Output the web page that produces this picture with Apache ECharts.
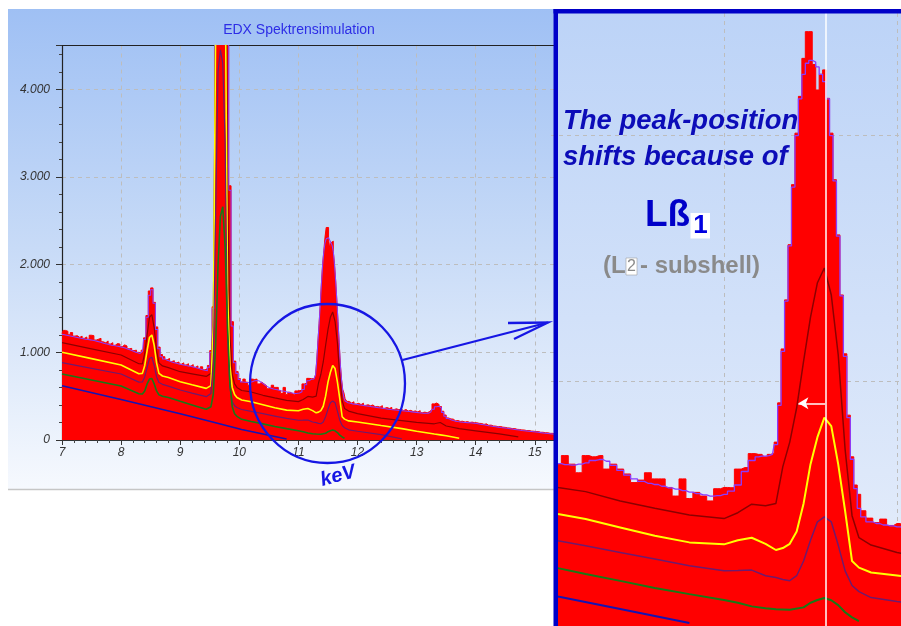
<!DOCTYPE html>
<html>
<head>
<meta charset="utf-8">
<title>EDX Spektrensimulation</title>
<script src="https://cdn.jsdelivr.net/npm/echarts@6/dist/echarts.min.js"></script>
<style>
    html, body { margin: 0; padding: 0; background: #fff; }
    #chart { width: 901px; height: 626px; }
</style>
</head>
<body>
<div id="chart"></div>
<script>
    // channel layout of the simulated spectrum: [first keV, last keV, step]
    const binSegments = [[7.00, 11.20, 0.04], [11.22, 11.80, 0.02], [11.84, 15.36, 0.04]];

    // red histogram (counts per channel)
    const measuredCounts = [
        // 7.00 - 9.96
        1215, 1250, 1240, 1200, 1225, 1185, 1190, 1170, 1185, 1160,
        1175, 1150, 1195, 1190, 1140, 1150, 1160, 1120, 1108, 1130,
        1095, 1110, 1080, 1100, 1095, 1065, 1085, 1072, 1040, 1045,
        1020, 1025, 1000, 995, 1025, 1165, 1420, 1700, 1735, 1570,
        1290, 1060, 975, 950, 915, 930, 895, 905, 880, 890,
        865, 880, 855, 870, 842, 860, 830, 845, 812, 835,
        800, 815, 850, 1020, 1520, 5200, 9600, 14100, 15200, 11600,
        6300, 2900, 1350, 900, 780,
        // 10.00 - 11.20
        700, 662, 695, 660, 625, 695, 690, 695, 640, 660,
        640, 620, 585, 595, 625, 600, 600, 565, 530, 600,
        520, 545, 530, 510, 560, 565, 564, 640, 646, 703, 700,
        // 11.22 - 11.80
        700, 690, 700, 705, 750, 910, 1130, 1330, 1555, 1800,
        2010, 2160, 2315, 2424, 2424, 2290, 2186, 2250, 2268, 2152,
        2010, 1820, 1595, 1350, 1110, 860, 690, 575, 537, 470,
        // 11.84 - 15.36
        440, 422, 436, 410, 418, 404, 420, 395, 402, 390,
        400, 378, 383, 375, 392, 362, 370, 360, 372, 348,
        356, 345, 350, 336, 348, 330, 338, 325, 332, 320,
        335, 312, 318, 310, 325, 345, 412, 422, 405, 382,
        328, 285, 252, 240, 238, 218, 222, 212, 214, 204,
        210, 200, 204, 198, 196, 190, 188, 178, 184, 168,
        170, 160, 158, 152, 154, 146, 144, 138, 136, 130,
        130, 122, 120, 115, 114, 108, 108, 102, 100, 96,
        96, 88, 88, 83, 82, 76, 76, 70, 68
    ];

    // violet outline (smoothed total), same channels
    const smoothCounts = [
        1205, 1200, 1195, 1190, 1184, 1178, 1172, 1166, 1160, 1155,
        1150, 1146, 1142, 1138, 1132, 1125, 1118, 1110, 1102, 1095,
        1088, 1082, 1078, 1072, 1068, 1062, 1055, 1046, 1036, 1026,
        1016, 1005, 995, 988, 1010, 1150, 1400, 1650, 1715, 1560,
        1260, 1040, 950, 925, 910, 900, 890, 882, 875, 868,
        862, 856, 850, 845, 840, 834, 826, 818, 810, 802,
        795, 790, 830, 1000, 1500, 5000, 9500, 14000, 15000, 11500,
        6200, 2850, 1300, 880, 760,
        690, 662, 658, 656, 660, 665, 675, 679, 672, 655,
        635, 615, 600, 590, 582, 577, 570, 563, 558, 552,
        546, 540, 535, 530, 532, 537, 550, 575, 630, 675, 690,
        693, 693, 695, 700, 740, 900, 1120, 1325, 1550, 1790,
        2000, 2150, 2250, 2295, 2307, 2300, 2280, 2250, 2220, 2150,
        2000, 1815, 1590, 1346, 1100, 850, 680, 560, 480, 445,
        425, 418, 412, 408, 404, 400, 396, 392, 388, 384,
        380, 376, 372, 368, 364, 360, 356, 352, 348, 345,
        342, 339, 336, 333, 330, 327, 324, 321, 318, 315,
        312, 309, 306, 304, 305, 320, 350, 380, 385, 365,
        315, 270, 245, 232, 222, 215, 210, 206, 203, 200,
        198, 196, 194, 192, 188, 183, 178, 173, 168, 163,
        159, 155, 151, 147, 143, 140, 136, 133, 129, 125,
        121, 117, 113, 109, 106, 103, 100, 97, 94, 91,
        88, 84, 81, 78, 75, 72, 69, 66, 63
    ];

    // partial spectra [keV, counts]
    const darkRedLine = [[7.0,1110],[7.5,1040],[8.0,970],[8.3,870],[8.36,868],[8.40,990],[8.44,1200],[8.48,1400],[8.52,1430],[8.56,1280],[8.60,1020],[8.64,880],[8.70,845],[8.8,825],[9.0,779],[9.2,755],[9.44,725],[9.52,760],[9.56,1400],[9.60,5000],[9.64,8500],[9.68,9000],[9.72,8800],[9.76,7000],[9.80,3000],[9.84,1200],[9.88,750],[9.92,640],[9.96,600],[10.04,565],[10.2,548],[10.4,510],[10.6,480],[10.8,453],[11.0,438],[11.08,462],[11.16,497],[11.24,490],[11.30,500],[11.34,650],[11.38,750],[11.42,890],[11.46,1080],[11.50,1260],[11.54,1400],[11.58,1460],[11.62,1350],[11.66,1107],[11.70,720],[11.74,450],[11.78,360],[11.85,330],[12.0,300],[12.4,250],[12.75,222],[13.0,200],[13.3,185],[13.4,200],[13.5,160],[13.72,130],[14.0,105],[14.4,70],[14.72,35]];
    const yellowLine = [[7.0,1000],[7.5,928],[8.0,855],[8.3,755],[8.36,760],[8.40,850],[8.44,1020],[8.48,1170],[8.52,1198],[8.56,1080],[8.60,880],[8.64,760],[8.70,730],[8.8,712],[9.0,665],[9.2,630],[9.44,589],[9.52,620],[9.56,1300],[9.60,4700],[9.64,7000],[9.68,7200],[9.72,6800],[9.76,5500],[9.80,1700],[9.84,850],[9.88,600],[9.92,520],[9.96,485],[10.04,457],[10.2,436],[10.4,402],[10.6,368],[10.8,341],[11.0,333],[11.08,350],[11.16,360],[11.24,335],[11.30,310],[11.34,318],[11.38,335],[11.42,385],[11.46,500],[11.50,660],[11.54,770],[11.58,850],[11.62,815],[11.66,660],[11.70,469],[11.74,265],[11.78,238],[11.85,218],[12.0,206],[12.4,165],[12.75,130],[13.0,100],[13.3,68],[13.4,58],[13.5,48],[13.72,20]];
    const darkPurpleLine = [[7.0,882],[7.5,818],[8.0,753],[8.3,660],[8.36,662],[8.40,720],[8.44,830],[8.48,930],[8.52,945],[8.56,850],[8.60,720],[8.64,655],[8.70,635],[8.8,615],[9.0,570],[9.2,535],[9.44,494],[9.52,530],[9.56,900],[9.60,2600],[9.64,4200],[9.68,4450],[9.72,4300],[9.76,3400],[9.80,1200],[9.84,600],[9.88,440],[9.92,390],[9.96,370],[10.04,348],[10.2,327],[10.4,300],[10.6,273],[10.8,246],[11.0,225],[11.08,226],[11.16,228],[11.24,205],[11.30,198],[11.34,190],[11.38,185],[11.42,205],[11.46,265],[11.50,350],[11.54,425],[11.58,445],[11.62,425],[11.66,330],[11.70,225],[11.74,165],[11.78,140],[11.85,116],[12.0,100],[12.4,62],[12.75,12]];
    const greenLine = [[7.0,753],[7.5,685],[8.0,616],[8.3,528],[8.36,525],[8.40,560],[8.44,640],[8.48,695],[8.52,702],[8.56,640],[8.60,560],[8.64,515],[8.70,500],[8.8,485],[9.0,442],[9.2,400],[9.44,350],[9.52,380],[9.56,520],[9.60,1100],[9.64,2000],[9.68,2550],[9.72,2660],[9.76,2200],[9.80,1300],[9.84,650],[9.88,380],[9.92,300],[9.96,270],[10.04,236],[10.2,212],[10.4,184],[10.6,155],[10.8,130],[11.0,106],[11.08,95],[11.16,80],[11.24,72],[11.30,68],[11.38,66],[11.46,76],[11.50,95],[11.54,106],[11.58,114],[11.62,105],[11.66,85],[11.70,56],[11.74,35],[11.78,20]];
    const blueLine = [[7.0,618],[8.0,462],[9.0,300],[9.5,215],[10.04,120],[10.4,69],[10.8,12]];

    const binKeV = [];
    binSegments.forEach(([from, to, step]) => {
        const n = Math.round((to - from) / step);
        for (let i = 0; i <= n; i++) binKeV.push(Math.round((from + i * step) * 100) / 100);
    });
    const histogram = binKeV.map((e, i) => [e, measuredCounts[i]]);
    const envelope = binKeV.map((e, i) => [e, smoothCounts[i]]);

    const curves = [
        { data: darkRedLine, color: '#8c0000', width: 1.5 },
        { data: yellowLine, color: '#ffff00', width: 2 },
        { data: darkPurpleLine, color: '#6e1a6e', width: 1.5 },
        { data: greenLine, color: '#177a17', width: 2 },
        { data: blueLine, color: '#1414b4', width: 2 }
    ];

    const font = '"Liberation Sans", Arial, sans-serif';
    const gridDash = { color: '#bdbdbd', type: [4, 4], width: 1 };

    // one full stack of spectrum layers on a given pair of axes
    const spectrum = (xi, yi, scale) => {
        const list = [{
            type: 'line', xAxisIndex: xi, yAxisIndex: yi, step: 'middle', symbol: 'none',
            data: histogram, lineStyle: { color: '#ff0000', width: 1 },
            areaStyle: { color: '#ff0000', opacity: 1 }, silent: true
        }, {
            type: 'line', xAxisIndex: xi, yAxisIndex: yi, step: 'middle', symbol: 'none',
            data: envelope, lineStyle: { color: '#8a3cff', width: 1.3 * scale }, silent: true
        }];
        curves.forEach(c => list.push({
            type: 'line', xAxisIndex: xi, yAxisIndex: yi, symbol: 'none',
            data: c.data, lineStyle: { color: c.color, width: c.width * scale }, silent: true
        }));
        return list;
    };

    const series = spectrum(0, 0, 0.8).concat(spectrum(3, 2, 1));
    series[series.length - 1].markLine = {
        silent: true,
        symbol: ['none', 'none'],
        label: { show: false },
        lineStyle: { color: '#ffffff', type: 'solid', width: 1.5 },
        data: [
            { xAxis: 11.59 },
            [{ coord: [11.585, 908], symbol: 'none' }, { coord: [11.43, 908], symbol: 'arrow', symbolSize: [9, 10] }]
        ]
    };

    const leftBg = new echarts.graphic.LinearGradient(0, 0, 0, 1, [
        { offset: 0, color: '#9fc0f4' },
        { offset: 0.5, color: '#c8dbf7' },
        { offset: 1, color: '#f6f9fe' }
    ]);
    const insetBg = new echarts.graphic.LinearGradient(0, 0, 0, 1, [
        { offset: 0, color: '#bcd3f7' },
        { offset: 1, color: '#e8effb' }
    ]);
    const annot = '#1616e4';

    const option = {
        animation: false,
        grid: [
            { left: 62, top: 45.5, width: 492.7, height: 394.5 },
            { left: 551, top: 13, width: 350, height: 615.6 },
            { left: 558, top: 13, width: 343, height: 615.6 }
        ],
        xAxis: [{
            gridIndex: 0, type: 'value', min: 7, max: 15.336, interval: 1,
            axisLine: { lineStyle: { color: '#333', width: 1 } },
            axisTick: { length: 5, lineStyle: { color: '#333' } },
            minorTick: { show: true, splitNumber: 5, length: 3, lineStyle: { color: '#444' } },
            axisLabel: {
                color: '#333', fontStyle: 'italic', fontSize: 12, fontFamily: font, margin: 7,
                formatter: v => Number.isInteger(v) ? String(v) : ''
            },
            splitLine: { show: true, lineStyle: gridDash }
        }, {
            gridIndex: 0, type: 'value', position: 'top', min: 7, max: 15.336,
            axisLine: { show: true, lineStyle: { color: '#222' } },
            axisTick: { show: false }, axisLabel: { show: false }, splitLine: { show: false }
        }, {
            gridIndex: 1, type: 'value', min: 10, max: 12.023, interval: 1,
            axisLine: { show: false }, axisTick: { show: false }, axisLabel: { show: false },
            splitLine: { show: true, showMinLine: false, showMaxLine: false, lineStyle: gridDash }
        }, {
            gridIndex: 2, type: 'value', min: 10.0405, max: 12.023,
            axisLine: { show: false }, axisTick: { show: false }, axisLabel: { show: false },
            splitLine: { show: false }
        }],
        yAxis: [{
            gridIndex: 0, type: 'value', min: 0, max: 4500, interval: 1000,
            axisLine: { show: true, lineStyle: { color: '#222', width: 1.2 } },
            axisTick: { show: true, length: 6, lineStyle: { color: '#333' } },
            minorTick: { show: true, splitNumber: 5, length: 3, lineStyle: { color: '#444' } },
            axisLabel: {
                color: '#333', fontStyle: 'italic', fontSize: 12, fontFamily: font, margin: 12,
                formatter: v => v === 0 ? '0' : (v % 1000 === 0 ? (v / 1000) + '.000' : '')
            },
            splitLine: { show: true, lineStyle: gridDash }
        }, {
            gridIndex: 1, type: 'value', min: 0, max: 2500, interval: 1000,
            axisLine: { show: false }, axisTick: { show: false }, axisLabel: { show: false },
            splitLine: { show: true, showMaxLine: false, lineStyle: gridDash }
        }, {
            gridIndex: 2, type: 'value', min: 0, max: 2500,
            axisLine: { show: false }, axisTick: { show: false }, axisLabel: { show: false },
            splitLine: { show: false }
        }],
        graphic: [
            { type: 'rect', z: -10, silent: true, shape: { x: 8, y: 9, width: 546, height: 480 }, style: { fill: leftBg } },
            { type: 'line', z: -9, silent: true, shape: { x1: 8, y1: 489.5, x2: 554, y2: 489.5 }, style: { stroke: '#c6c6c6', lineWidth: 1.5 } },
            { type: 'rect', z: -10, silent: true, shape: { x: 553.5, y: 9, width: 348, height: 617 }, style: { fill: insetBg } },
            {
                type: 'text', z: 100, silent: true, x: 299, y: 30,
                style: { text: 'EDX Spektrensimulation', font: '14px ' + font, fill: '#2d2de6', textAlign: 'center', textVerticalAlign: 'middle' }
            },
            { type: 'ellipse', z: 100, silent: true, shape: { cx: 327.5, cy: 383.5, rx: 77.5, ry: 79.5 }, style: { fill: 'none', stroke: annot, lineWidth: 2.3 } },
            { type: 'line', z: 100, silent: true, shape: { x1: 402.5, y1: 360, x2: 548, y2: 322.5 }, style: { stroke: annot, lineWidth: 2.3 } },
            { type: 'polyline', z: 100, silent: true, shape: { points: [[508, 323], [548, 322.5], [514, 339]] }, style: { fill: 'none', stroke: annot, lineWidth: 2.3 } },
            {
                type: 'text', z: 100, silent: true, x: 338, y: 476, rotation: 0.26,
                style: { text: 'keV', font: 'italic bold 20px ' + font, fill: annot, textAlign: 'center', textVerticalAlign: 'middle' }
            },
            { type: 'rect', z: 100, silent: true, shape: { x: 553.5, y: 9, width: 4.5, height: 617 }, style: { fill: '#0000c8' } },
            { type: 'rect', z: 100, silent: true, shape: { x: 553.5, y: 9, width: 348, height: 4.5 }, style: { fill: '#0000c8' } },
            {
                type: 'text', z: 100, silent: true, x: 563, y: 121,
                style: { text: 'The peak-position', font: 'italic bold 27.5px ' + font, fill: '#0c0cb8', textAlign: 'left', textVerticalAlign: 'middle' }
            },
            {
                type: 'text', z: 100, silent: true, x: 563, y: 157,
                style: { text: 'shifts because of', font: 'italic bold 27.5px ' + font, fill: '#0c0cb8', textAlign: 'left', textVerticalAlign: 'middle' }
            },
            {
                type: 'text', z: 100, silent: true, x: 645, y: 216,
                style: { text: 'Lß', font: 'bold 37px ' + font, fill: '#0000c8', textAlign: 'left', textVerticalAlign: 'middle' }
            },
            { type: 'rect', z: 100, silent: true, shape: { x: 690.5, y: 213, width: 19.5, height: 25.5 }, style: { fill: '#ffffff' } },
            {
                type: 'text', z: 101, silent: true, x: 700.5, y: 226,
                style: { text: '1', font: 'bold 26px ' + font, fill: '#0000e0', textAlign: 'center', textVerticalAlign: 'middle' }
            },
            {
                type: 'text', z: 100, silent: true, x: 603, y: 266.5,
                style: { text: '(L', font: 'bold 24px ' + font, fill: '#8a8a8a', textAlign: 'left', textVerticalAlign: 'middle' }
            },
            { type: 'rect', z: 100, silent: true, shape: { x: 626, y: 258, width: 11, height: 17 }, style: { fill: '#ffffff', stroke: '#a0a0a0', lineWidth: 0.6 } },
            {
                type: 'text', z: 101, silent: true, x: 631.5, y: 267,
                style: { text: '2', font: '16px ' + font, fill: '#8a8a8a', textAlign: 'center', textVerticalAlign: 'middle' }
            },
            {
                type: 'text', z: 100, silent: true, x: 640, y: 266.5,
                style: { text: '- subshell)', font: 'bold 24px ' + font, fill: '#8a8a8a', textAlign: 'left', textVerticalAlign: 'middle' }
            }
        ],
        series
    };

    const chart = echarts.init(document.getElementById('chart'));
    chart.setOption(option);
</script>
</body>
</html>
